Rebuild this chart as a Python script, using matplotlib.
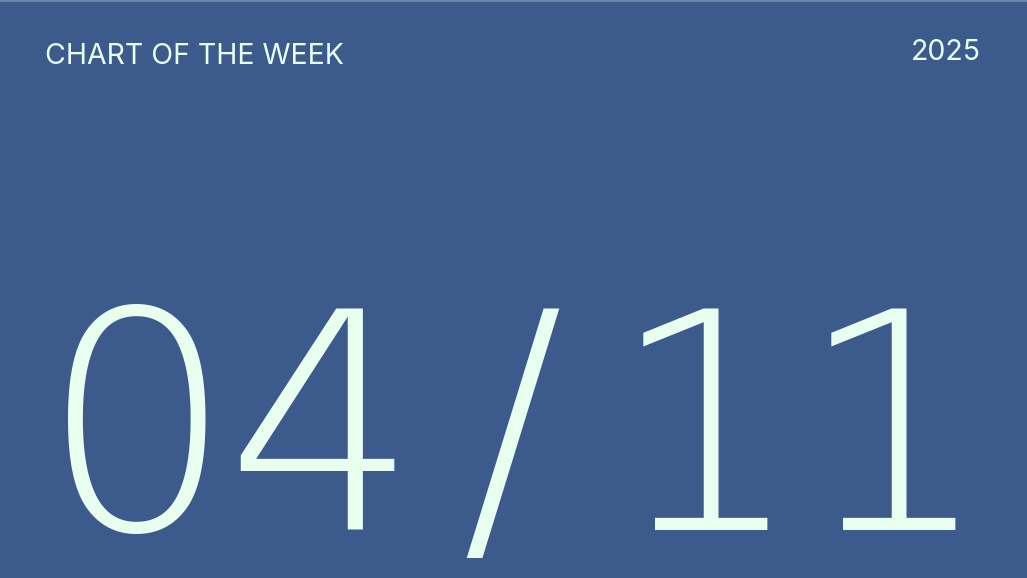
import matplotlib
matplotlib.use("Agg")
import matplotlib.pyplot as plt

# Content
header_label = "CHART OF THE WEEK"
year_label = "2025"
date_parts = ["0", "4", "/", "1", "1"]

BG = "#3c5a8b"
FG = "#e8fff0"

fig = plt.figure(figsize=(10.27, 5.78), dpi=100)
fig.patch.set_facecolor(BG)
ax = fig.add_axes([0, 0, 1, 1])
ax.set_xlim(0, 1027)
ax.set_ylim(578, 0)
ax.axis("off")
ax.set_facecolor(BG)

# thin lighter border at the top
ax.axhline(0.5, color="#6b84ad", lw=1.5)

ax.text(45, 64, header_label, color=FG, fontsize=20.5, family=["Inter", "DejaVu Sans"],
        fontweight="normal", ha="left", va="baseline")
ax.text(981, 60, year_label, color=FG, fontsize=20.5, family=["Inter", "DejaVu Sans"],
        fontweight="normal", ha="right", va="baseline")

centers = [137, 322, 512, 706, 894]
for ch, cx in zip(date_parts, centers):
    ax.text(cx, 530, ch, color=FG, fontsize=218, family=["DejaVu Sans"],
            fontweight=200, ha="center", va="baseline")

fig.savefig("out.png", dpi=100, facecolor=BG)
